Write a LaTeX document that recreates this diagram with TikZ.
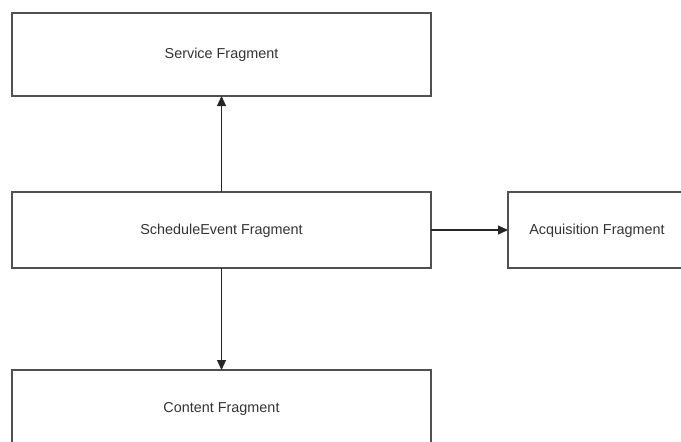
\documentclass[tikz,border=0pt]{standalone}
\usepackage{fontspec}
\setmainfont{Liberation Sans}
\usetikzlibrary{arrows.meta}
\definecolor{edge}{HTML}{505050}
\begin{document}
\begin{tikzpicture}[x=1pt,y=-1pt,
  fragbox/.style={draw=edge,line width=1.3pt,fill=none},
  conn/.style={draw=black!85,line width=1.1pt,-{Triangle[length=10pt,width=9pt]}},
  lbl/.style={font=\fontsize{14.4}{16}\selectfont,text=black!80,inner sep=0pt}]
\useasboundingbox (0,0) rectangle (681,442);
\begin{scope}
\clip (0,0) rectangle (681,442);
\draw[fragbox] (12,13) rectangle (431,96);
\draw[fragbox] (12,192) rectangle (431,268);
\draw[fragbox] (508,192) rectangle (700,268);
\draw[fragbox] (12,370) rectangle (431,460);
\end{scope}
\node[lbl] (service) at (221.5,55) {Service Fragment};
\node[lbl] (sched) at (221.5,230.5) {ScheduleEvent Fragment};
\node[lbl] (acq) at (597,230.5) {Acquisition Fragment};
\node[lbl] (content) at (221.5,408.5) {Content Fragment};
\coordinate (serviceB) at (221.5,96);
\coordinate (schedT) at (221.5,192);
\coordinate (schedB) at (221.5,268);
\coordinate (schedR) at (431,230);
\coordinate (acqL) at (508,230);
\coordinate (contentT) at (221.5,370);
\draw[conn] (schedT) -- (serviceB);
\draw[conn] (schedR) -- (acqL);
\draw[conn] (schedB) -- (contentT);
\end{tikzpicture}
\end{document}
